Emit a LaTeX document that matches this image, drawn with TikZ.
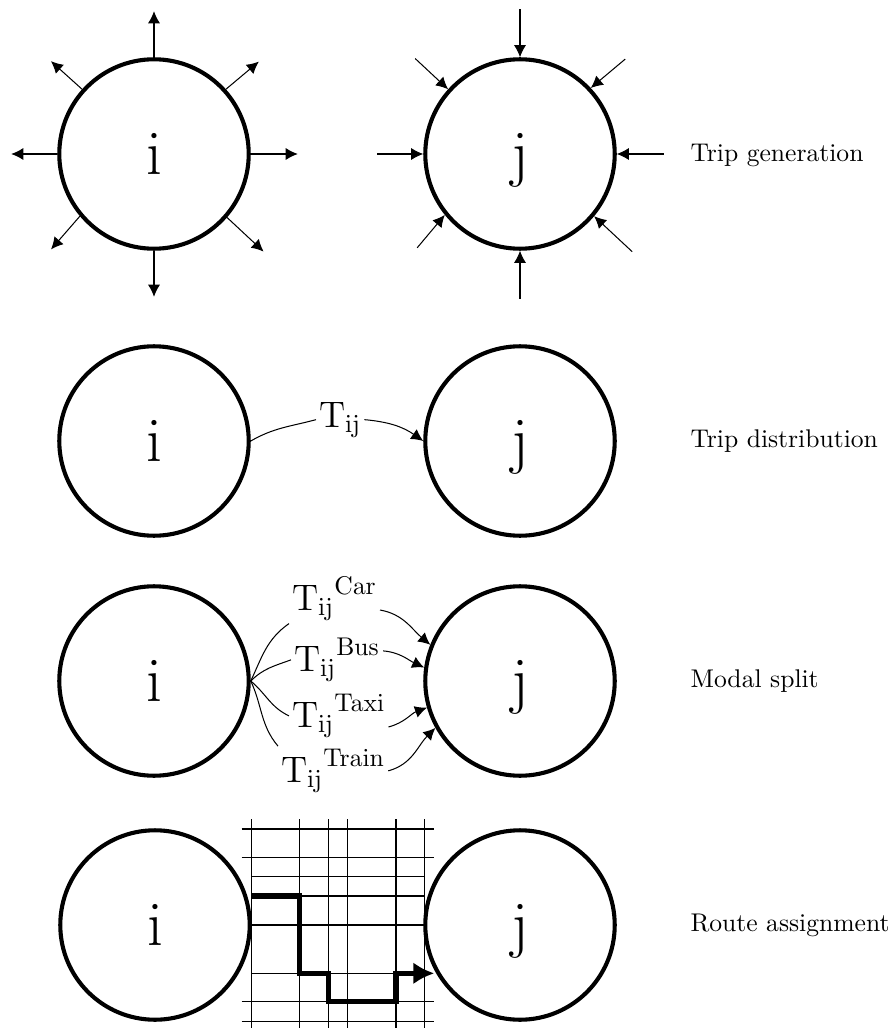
\documentclass[tikz,border=0pt]{standalone}
\usetikzlibrary{arrows.meta}
\begin{document}
\begin{tikzpicture}[x=0.390625pt, y=0.390625pt,
  zone/.style={circle, draw, line width=1.6pt, minimum size=74pt, inner sep=0pt, font=\Huge, text depth=0pt},
  conn/.style={line width=0.4pt},
  arr/.style={line width=0.4pt, -{Latex[length=4.7pt,width=4.7pt]}},
  rarr/.style={line width=0.4pt, {Latex[length=4.7pt,width=4.7pt]}-},
  lbl/.style={font=\Large, inner sep=1pt, anchor=base west},
  stage/.style={anchor=west, inner sep=0pt},
  gridline/.style={line width=0.4pt},
  route/.style={line width=2pt, -{Latex[length=8.2pt,width=8.6pt]}}
]
\useasboundingbox (0,0) rectangle (894,-1028);

% ---------- Row 1: trip generation ----------
\node[zone] (i1) at (154,-154) {i};
\node[zone] (j1) at (520,-154) {j};
\draw[arr] (i1.north) -- ++(90:46);
\draw[arr] (i1.south) -- ++(270:46);
\draw[arr] (i1.west) -- ++(180:46);
\draw[arr] (i1.east) -- ++(0:47);
\draw[arr] (i1.138) -- ++(138:42);
\draw[arr] (i1.42) -- ++(40:43);
\draw[arr] (i1.220) -- ++(229:44);
\draw[arr] (i1.319) -- ++(317:50);

\draw[rarr] (j1.north) -- ++(90:48);
\draw[rarr] (j1.south) -- ++(270:48);
\draw[rarr] (j1.west) -- ++(180:46);
\draw[rarr] (j1.east) -- ++(0:47);
\draw[rarr] (j1.138) -- ++(137:45);
\draw[rarr] (j1.43) -- ++(40:45);
\draw[rarr] (j1.219) -- ++(230:43);
\draw[rarr] (j1.320) -- ++(317:52);
\node[stage] (s1) at (690,-155) {Trip generation};

% ---------- Row 2: trip distribution ----------
\node[zone] (i2) at (154,-441) {i};
\node[zone] (j2) at (520,-441) {j};
\node[lbl] (tij) at (316,-427) {$\mathrm{T}_{\mathrm{ij}}$};
\draw[conn] (i2.east) to[out=30,in=195] (tij.west);
\draw[arr] (tij.east) to[out=-5,in=145] (j2.west);
\node[stage] (s2) at (690,-441) {Trip distribution};

% ---------- Row 3: modal split ----------
\node[zone] (i3) at (154,-681) {i};
\node[zone] (j3) at (520,-681) {j};
\node[lbl] (car) at (289,-610) {${\mathrm{T}_{\mathrm{ij}}}^{\mathrm{Car}}$};
\node[lbl] (bus) at (291,-671) {${\mathrm{T}_{\mathrm{ij}}}^{\mathrm{Bus}}$};
\node[lbl] (taxi) at (289,-727) {${\mathrm{T}_{\mathrm{ij}}}^{\mathrm{Taxi}}$};
\node[lbl] (train) at (278,-782) {${\mathrm{T}_{\mathrm{ij}}}^{\mathrm{Train}}$};
\draw[conn] (i3.east) to[out=65,in=215] (car.south west);
\draw[conn] (i3.east) to[out=45,in=200] (bus.west);
\draw[conn] (i3.east) to[out=-40,in=155] (taxi.west);
\draw[conn] (i3.east) to[out=-65,in=130] (train.north west);
\draw[arr] (car.base east) to[out=-10,in=140] (j3.158);
\draw[arr] ([yshift=3.5pt]bus.east) to[out=-5,in=155] (j3.172);
\draw[arr] (taxi.base east) to[out=15,in=200] (j3.196);
\draw[arr] (train.east) to[out=15,in=225] (j3.209);
\node[stage] (s3) at (690,-681) {Modal split};

% ---------- Row 4: route assignment ----------
\foreach \yy in {829,857.3,1001.7,1021}
  \draw[gridline] (241.7,-\yy) -- (434.3,-\yy);
\foreach \yy in {876.7,896,925,973.3}
  \draw[gridline] (251.7,-\yy) -- (424.3,-\yy);
\foreach \xx in {251.7,299.3,328.3,347.3,396,424.3}
  \draw[gridline] (\xx,-819) -- (\xx,-1028);
\node[zone] (i4) at (155,-925) {i};
\node[zone] (j4) at (520,-925) {j};
\coordinate (rs) at (251.7,-896);
\coordinate (re) at (434.3,-973.3);
\draw[route] (rs) -- (299.3,-896) -- (299.3,-973.3) -- (328.3,-973.3)
  -- (328.3,-1001.7) -- (396,-1001.7) -- (396,-973.3) -- (re);
\node[stage] (s4) at (690,-925) {Route assignment};
\end{tikzpicture}
\end{document}
